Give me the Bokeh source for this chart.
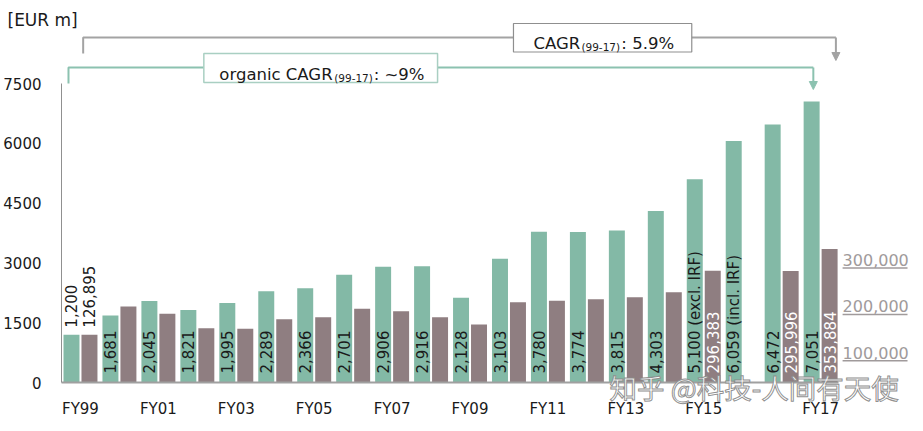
import numpy as np
from bokeh.plotting import figure
from bokeh.models import Range1d, FixedTicker, Arrow, NormalHead, Title
from bokeh.core.properties import value
from bokeh.embed import file_html
from bokeh.resources import INLINE

# ---------------- data ----------------
periods = ["FY99", "FY00", "FY01", "FY02", "FY03", "FY04", "FY05", "FY06", "FY07", "FY08",
           "FY09", "FY10", "FY11", "FY12", "FY13", "FY14", "FY15", "FY15 incl. IRF", "FY16", "FY17"]
revenue = [1200, 1681, 2045, 1821, 1995, 2289, 2366, 2701, 2906, 2916,
           2128, 3103, 3780, 3774, 3815, 4303, 5100, 6059, 6472, 7051]
revenue_labels = ["1,200", "1,681", "2,045", "1,821", "1,995", "2,289", "2,366", "2,701", "2,906", "2,916",
                  "2,128", "3,103", "3,780", "3,774", "3,815", "4,303", "5,100 (excl. IRF)",
                  "6,059 (incl. IRF)", "6,472", "7,051"]
second = [126895, 201500, 182200, 144000, 142400, 167900, 173200, 195400, 189100, 173200,
          153800, 213000, 216600, 221000, 226300, 239500, 296383, None, 295996, 353884]
second_labels = ["126,895", "", "", "", "", "", "", "", "", "",
                 "", "", "", "", "", "", "296,383", "", "295,996", "353,884"]
tick_labels = ["FY99", "FY01", "FY03", "FY05", "FY07", "FY09", "FY11", "FY13", "FY15", "FY17"]
y_ticks = [0, 1500, 3000, 4500, 6000, 7500]
right_ticks = [100000, 200000, 300000]
right_tick_labels = ["100,000", "200,000", "300,000"]
organic_cagr = ["organic CAGR", "(99-17)", ": ~9%"]
total_cagr = ["CAGR", "(99-17)", ": 5.9%"]
unit_label = "[EUR m]"
watermark = "知乎 @科技-人间有天使"

# ---------------- style ----------------
GREEN = "#83b9a6"
MAUVE = "#8f7e81"
GREEN_LINE = "#8cc2b0"
GREY_LINE = "#a3a3a3"
TEXT = "#1a1a1a"
FONT = "DejaVu Sans"
W, H = 921, 429
BASE = 382      # page y of the zero line
TOP = 22        # page y of the frame top
LEFT = 60       # page x of the frame left

PX0, PXS = 79.0, 39.0          # slot 0 centre, slot pitch (px)
YS = 299.0 / 7500              # px per unit
def dx(px):
    return (px - PX0) / PXS
def dy(py):
    return (BASE - py) / YS

x_start, x_end = dx(LEFT), dx(W)
y_end = dy(TOP)
scale2 = second[0] / revenue[0]
RPX = 0.000463                  # px per unit of the right-hand label scale
RZERO = 398.5

p = figure(width=W, height=H, x_range=Range1d(x_start, x_end), y_range=Range1d(0, y_end),
           output_backend="svg", toolbar_location=None, title=None,
           min_border_left=LEFT, min_border_right=0, min_border_top=TOP, min_border_bottom=H - BASE)
p.outline_line_color = None
p.xgrid.visible = False
p.ygrid.visible = False
p.background_fill_color = "white"
p.border_fill_color = "white"
p.extra_y_ranges = {"second": Range1d(0, y_end * scale2),
                    "rlab": Range1d((RZERO - BASE) / RPX, (RZERO - TOP) / RPX)}

idx = np.arange(len(periods))
off, bw = 9 / PXS, 16 / PXS

# bars
p.vbar(x=idx - off, top=revenue, width=bw, bottom=0, fill_color=GREEN, line_color=None)
sidx = [i for i, v in enumerate(second) if v is not None]
p.vbar(x=[i + off for i in sidx], top=[second[i] for i in sidx], width=bw, bottom=0,
       fill_color=MAUVE, line_color=None, y_range_name="second")

# bar labels
common = dict(angle=np.pi / 2, text_align="left", text_baseline="middle",
              text_font=value(FONT), text_font_size="15px")
inside = [i for i in idx if i != 0]
p.text(x=[i - off for i in inside], y=[0] * len(inside), text=[revenue_labels[i] for i in inside],
       y_offset=-9, text_color=TEXT, **common)
p.text(x=[0 - off], y=[revenue[0]], text=[revenue_labels[0]], y_offset=-7, text_color=TEXT, **common)
lab2 = [i for i in sidx if second_labels[i] and i != 0]
p.text(x=[i + off for i in lab2], y=[0] * len(lab2), text=[second_labels[i] for i in lab2],
       y_offset=-9, text_color="white", y_range_name="second", **common)
p.text(x=[0 + off], y=[second[0]], text=[second_labels[0]], y_offset=-7, text_color=TEXT,
       y_range_name="second", **common)

# axes
p.xaxis.ticker = FixedTicker(ticks=[periods.index(t) for t in tick_labels])
p.xaxis.major_label_overrides = {periods.index(t): t for t in tick_labels}
p.xaxis.bounds = (x_start, dx(838))
p.xaxis.axis_line_color = "#a0a0a0"
p.xaxis.axis_line_width = 2
p.xaxis.major_tick_line_color = None
p.xaxis.minor_tick_line_color = None
p.xaxis.major_label_standoff = 11
p.xaxis.major_label_text_font = FONT
p.xaxis.major_label_text_font_size = "15px"
p.xaxis.major_label_text_color = TEXT

p.yaxis.ticker = FixedTicker(ticks=y_ticks)
p.yaxis.major_label_overrides = {t: str(t) for t in y_ticks}
p.yaxis.bounds = (0, 7500)
p.yaxis.axis_line_color = "#909090"
p.yaxis.axis_line_width = 1
p.yaxis.major_tick_line_color = None
p.yaxis.minor_tick_line_color = None
p.yaxis.major_label_standoff = 14
p.yaxis.major_label_text_font = FONT
p.yaxis.major_label_text_font_size = "15px"
p.yaxis.major_label_text_color = TEXT

# right-hand labels (underlined)
RL = "#a09a9b"
p.text(x=[dx(842)] * 3, y=right_ticks, text=right_tick_labels, y_range_name="rlab",
       text_align="left", text_baseline="middle", text_font=value(FONT), text_font_size="16px",
       text_color=RL)
ul = [v - 8 / RPX for v in right_ticks]
p.segment(x0=[dx(842)] * 3, x1=[dx(907)] * 3, y0=ul, y1=ul, y_range_name="rlab",
          line_color=RL, line_width=1.5)

# brackets
p.line(x=[dx(81.7), dx(81.7), dx(835.3)], y=[dy(53), dy(37), dy(37)], line_color=GREY_LINE, line_width=2)
p.add_layout(Arrow(end=NormalHead(size=8, fill_color=GREY_LINE, line_color=GREY_LINE),
                   x_start=dx(835.3), y_start=dy(37), x_end=dx(835.3), y_end=dy(60),
                   line_color=GREY_LINE, line_width=2))
p.line(x=[dx(67), dx(67), dx(812.7)], y=[dy(83), dy(67), dy(67)], line_color=GREEN_LINE, line_width=2)
p.add_layout(Arrow(end=NormalHead(size=8, fill_color=GREEN_LINE, line_color=GREEN_LINE),
                   x_start=dx(812.7), y_start=dy(67), x_end=dx(812.7), y_end=dy(89),
                   line_color=GREEN_LINE, line_width=2))

# boxes
p.quad(left=[dx(202.5)], right=[dx(436.5)], top=[dy(53)], bottom=[dy(82)],
       fill_color="white", line_color="#a9cfc2", line_width=1.5)
p.quad(left=[dx(512.5)], right=[dx(691)], top=[dy(23)], bottom=[dy(51.5)],
       fill_color="white", line_color="#8f8f8f", line_width=1.2)

tb = dict(text_align="left", text_baseline="alphabetic", text_font=value(FONT), text_color=TEXT)
MAIN, SUB = "16.5px", "10.5px"
p.text(x=[dx(218)], y=[dy(73.5)], text=[organic_cagr[0]], text_font_size=MAIN, **tb)
p.text(x=[dx(333)], y=[dy(77)], text=[organic_cagr[1]], text_font_size=SUB, **tb)
p.text(x=[dx(372.5)], y=[dy(73.5)], text=[organic_cagr[2]], text_font_size=MAIN, **tb)
p.text(x=[dx(532.5)], y=[dy(43)], text=[total_cagr[0]], text_font_size=MAIN, **tb)
p.text(x=[dx(580.5)], y=[dy(46.5)], text=[total_cagr[1]], text_font_size=SUB, **tb)
p.text(x=[dx(620.5)], y=[dy(43)], text=[total_cagr[2]], text_font_size=MAIN, **tb)

# unit label as a title above the frame (not clipped)
t_unit = Title(text=unit_label, align="left", offset=6 - LEFT, standoff=-14,
               vertical_align="bottom", text_font=FONT, text_font_size="17px",
               text_font_style="normal", text_color=TEXT)
p.add_layout(t_unit, "above")

# watermark as a title below the x axis
t_wm = Title(text=watermark, align="left", offset=608 - LEFT, standoff=-108,
             vertical_align="top", text_font="Noto Sans CJK SC", text_font_size="27.5px",
             text_font_style="normal", text_color="white", text_alpha=0.95)
try:
    t_wm.text_outline_color = "#8a8a8a"
except Exception:
    t_wm.text_color = "#d0d0d0"
p.add_layout(t_wm, "below")

open("out.html", "w").write(file_html(p, INLINE))
